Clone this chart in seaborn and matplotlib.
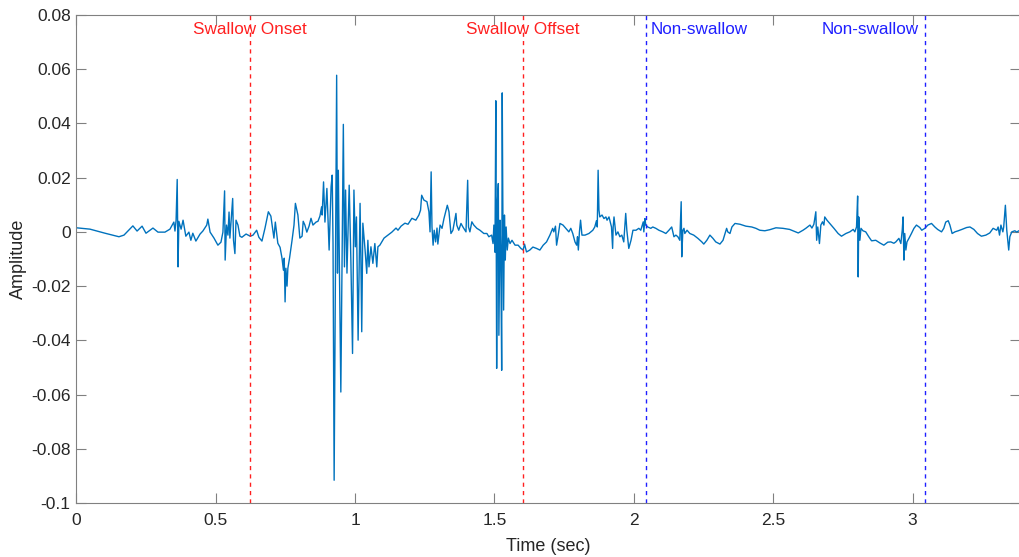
import numpy as np
import pandas as pd
import matplotlib
matplotlib.use('Agg')
import matplotlib.pyplot as plt
import seaborn as sns

# ---- signal (time in sec, amplitude) ----
time_s = [
    0.000, 0.049, 0.103, 0.153, 0.171, 0.203, 0.218, 0.236, 0.250, 0.275, 0.293, 0.318, 0.336,
    0.350, 0.354, 0.358, 0.362, 0.365, 0.368, 0.376, 0.383, 0.393, 0.404, 0.411, 0.418, 0.429,
    0.444, 0.454, 0.468, 0.472, 0.480, 0.494, 0.508, 0.519, 0.526, 0.532, 0.534, 0.539, 0.544,
    0.548, 0.551, 0.555, 0.561, 0.564, 0.569, 0.573, 0.580, 0.587, 0.594, 0.609, 0.624,
    0.634, 0.647, 0.655, 0.666, 0.677, 0.689, 0.698, 0.709, 0.714, 0.723, 0.731, 0.738, 0.743,
    0.746, 0.749, 0.752, 0.756, 0.759, 0.765, 0.774, 0.781, 0.786, 0.795, 0.802, 0.810, 0.814,
    0.820, 0.827, 0.835, 0.842, 0.849, 0.860, 0.867, 0.874,
    0.880, 0.882, 0.887, 0.892, 0.899, 0.907, 0.914, 0.918, 0.921, 0.925, 0.934, 0.937, 0.940,
    0.949, 0.958, 0.962, 0.966, 0.971, 0.979, 0.985, 0.991, 0.996, 1.001, 1.005, 1.011, 1.018,
    1.021, 1.024, 1.028, 1.036, 1.042, 1.046, 1.050, 1.057, 1.064, 1.071, 1.078, 1.082, 1.089,
    1.104, 1.118, 1.132, 1.147, 1.154, 1.165, 1.179, 1.190, 1.204, 1.218, 1.229, 1.235, 1.239,
    1.247, 1.258, 1.265,
    1.269, 1.273, 1.276, 1.280, 1.284, 1.289, 1.294, 1.297, 1.305, 1.312, 1.319, 1.331, 1.337,
    1.344, 1.351, 1.362, 1.365, 1.372, 1.380, 1.387, 1.398, 1.404, 1.407, 1.412, 1.419, 1.426,
    1.437, 1.448, 1.462, 1.473, 1.480, 1.490, 1.495, 1.498, 1.502, 1.505, 1.508, 1.511, 1.514,
    1.516, 1.520, 1.523, 1.526, 1.528, 1.530, 1.533, 1.536, 1.539, 1.542, 1.546, 1.550, 1.556,
    1.563, 1.574, 1.585, 1.595, 1.603, 1.608, 1.615, 1.627, 1.638, 1.651, 1.663, 1.675, 1.687,
    1.699, 1.709, 1.713, 1.719, 1.723, 1.728,
    1.735, 1.746, 1.756, 1.767, 1.774, 1.781, 1.789, 1.795, 1.798, 1.801, 1.805, 1.809, 1.814,
    1.825, 1.839, 1.853, 1.860, 1.866, 1.869, 1.872, 1.875, 1.878, 1.886, 1.893, 1.900, 1.904,
    1.911, 1.920, 1.924, 1.926, 1.929, 1.936, 1.943, 1.950, 1.957, 1.964, 1.971, 1.975, 1.982,
    1.990, 1.997, 2.008, 2.018, 2.025, 2.034, 2.036, 2.040, 2.043, 2.050, 2.061, 2.068, 2.079,
    2.090, 2.104, 2.115, 2.126, 2.136, 2.144, 2.151, 2.158, 2.165, 2.170, 2.172, 2.176, 2.180,
    2.183, 2.191, 2.201, 2.215, 2.230, 2.244, 2.251, 2.262, 2.273, 2.284, 2.294, 2.309, 2.320,
    2.333, 2.337, 2.345, 2.352, 2.363, 2.381, 2.402, 2.423, 2.438, 2.452, 2.470, 2.488, 2.510,
    2.535, 2.559, 2.590, 2.607, 2.617, 2.632, 2.639, 2.646, 2.653, 2.656, 2.660, 2.666, 2.671,
    2.677, 2.682, 2.685, 2.693, 2.703, 2.718, 2.733, 2.745, 2.761, 2.775, 2.787, 2.793, 2.799,
    2.803, 2.805, 2.807, 2.811, 2.815, 2.822, 2.832, 2.843, 2.853, 2.868, 2.883, 2.897, 2.911,
    2.922, 2.933, 2.940, 2.951, 2.958, 2.963, 2.966, 2.969, 2.972, 2.976, 2.980, 2.987, 2.996,
    3.005, 3.014, 3.026, 3.033, 3.044, 3.055, 3.068, 3.080, 3.090, 3.104, 3.112, 3.119, 3.128,
    3.134, 3.142, 3.152, 3.164, 3.177, 3.194, 3.206, 3.220, 3.233, 3.247, 3.263, 3.277, 3.289,
    3.302, 3.307, 3.312, 3.317, 3.324, 3.327, 3.333, 3.338, 3.345, 3.349, 3.356, 3.367, 3.374,
    3.381,
]
amplitude = [
    0.0015, 0.0010, -0.0005, -0.0018, -0.0012, 0.0022, 0.0003, 0.0021, -0.0005, 0.0014, -0.0001, -0.0001, 0.0010,
    0.0036, 0.0003, 0.0043, 0.0193, -0.0129, 0.0039, 0.0010, 0.0043, -0.0016, -0.0001, -0.0031, -0.0005, -0.0034,
    -0.0008, 0.0003, 0.0025, 0.0047, -0.0001, -0.0023, -0.0049, -0.0038, -0.0001, 0.0151, -0.0104, 0.0025, -0.0012,
    0.0073, -0.0023, 0.0036, 0.0123, -0.0031, -0.0080, 0.0043, 0.0025, -0.0016, -0.0020, -0.0008, -0.0016,
    -0.0012, 0.0006, -0.0020, -0.0034, 0.0014, 0.0074, 0.0058, -0.0023, 0.0036, -0.0042, -0.0057, -0.0097, -0.0141,
    -0.0097, -0.0258, -0.0134, -0.0200, -0.0134, -0.0097, -0.0031, 0.0025, 0.0105, 0.0062, -0.0023, -0.0016, 0.0039,
    0.0025, -0.0001, 0.0021, 0.0050, 0.0025, 0.0036, 0.0039, 0.0058,
    0.0092, 0.0062, 0.0184, 0.0036, 0.0160, -0.0067, 0.0166, 0.0209, -0.0042, -0.0915, 0.0577, -0.0152, 0.0227,
    -0.0590, 0.0396, -0.0129, 0.0154, -0.0152, 0.0172, -0.0104, -0.0448, 0.0154, -0.0055, 0.0055, -0.0399, 0.0105,
    -0.0104, -0.0368, 0.0032, -0.0067, -0.0153, -0.0031, -0.0129, -0.0055, -0.0116, -0.0043, -0.0129, -0.0055, -0.0049,
    -0.0023, -0.0012, -0.0001, 0.0014, 0.0006, 0.0021, 0.0032, 0.0028, 0.0050, 0.0043, 0.0062, 0.0080, 0.0135,
    0.0117, 0.0111, 0.0074,
    0.0000, 0.0221, 0.0018, -0.0049, 0.0006, -0.0037, 0.0014, -0.0045, 0.0025, 0.0013, 0.0049, 0.0098, 0.0074,
    -0.0006, 0.0006, 0.0068, 0.0025, 0.0006, 0.0031, 0.0018, 0.0000, 0.0190, 0.0018, 0.0000, 0.0037, 0.0025,
    0.0013, 0.0006, -0.0006, -0.0006, -0.0018, -0.0012, -0.0043, 0.0025, -0.0075, 0.0483, -0.0503, 0.0117, 0.0178,
    -0.0381, 0.0043, -0.0104, -0.0510, 0.0512, 0.0123, -0.0288, 0.0062, -0.0104, 0.0018, -0.0067, -0.0023, -0.0043,
    -0.0031, -0.0049, -0.0049, -0.0061, -0.0067, -0.0045, -0.0074, -0.0067, -0.0056, -0.0061, -0.0067, -0.0049, -0.0037,
    -0.0012, 0.0013, 0.0000, 0.0021, -0.0049, -0.0018,
    0.0031, 0.0025, 0.0013, 0.0000, 0.0013, -0.0006, -0.0037, -0.0049, -0.0018, -0.0067, 0.0000, 0.0043, -0.0012,
    -0.0012, -0.0006, 0.0006, 0.0018, 0.0041, 0.0018, 0.0227, 0.0080, 0.0055, 0.0062, 0.0049, 0.0055, 0.0043,
    0.0055, 0.0018, -0.0061, 0.0018, 0.0055, -0.0012, 0.0000, -0.0018, -0.0012, -0.0037, 0.0068, 0.0006, -0.0061,
    -0.0031, 0.0006, 0.0006, 0.0013, 0.0006, 0.0037, 0.0000, 0.0049, 0.0025, 0.0018, 0.0013, 0.0018, 0.0013,
    0.0006, 0.0000, -0.0006, 0.0006, 0.0018, -0.0018, -0.0012, -0.0018, -0.0031, 0.0111, -0.0092, 0.0006, 0.0013,
    -0.0006, 0.0006, -0.0006, -0.0012, -0.0024, -0.0037, -0.0045, -0.0031, -0.0012, -0.0024, -0.0037, -0.0045, -0.0031,
    0.0013, 0.0000, -0.0006, 0.0018, 0.0031, 0.0028, 0.0021, 0.0018, 0.0013, 0.0006, 0.0004, 0.0008, 0.0015,
    0.0013, 0.0009, -0.0004, 0.0006, 0.0013, 0.0025, 0.0014, 0.0028, 0.0074, -0.0031, 0.0018, -0.0043, 0.0025,
    0.0037, 0.0025, 0.0055, 0.0043, 0.0031, 0.0013, -0.0006, -0.0016, -0.0006, 0.0000, 0.0009, 0.0000, 0.0018,
    0.0132, -0.0166, 0.0055, -0.0031, 0.0013, 0.0004, 0.0000, -0.0018, -0.0033, -0.0031, -0.0041, -0.0049, -0.0038,
    -0.0037, -0.0042, -0.0037, -0.0024, -0.0043, 0.0006, 0.0055, -0.0104, -0.0006, -0.0067, -0.0037, -0.0024, -0.0006,
    0.0013, 0.0025, 0.0016, 0.0006, 0.0013, 0.0025, 0.0031, 0.0018, 0.0009, 0.0000, 0.0013, 0.0036, 0.0041,
    0.0025, -0.0006, 0.0000, 0.0004, 0.0009, 0.0016, 0.0018, 0.0009, -0.0006, -0.0016, -0.0012, -0.0004, 0.0013,
    0.0006, 0.0018, -0.0012, 0.0025, 0.0000, 0.0018, 0.0098, 0.0006, -0.0067, -0.0018, 0.0000, 0.0004, -0.0001,
    0.0004,
]

# ---- event markers ----
event_times = [0.624, 1.602, 2.042, 3.043]
event_labels = ['Swallow Onset', 'Swallow Offset', 'Non-swallow', 'Non-swallow']
event_colors = ['#FF2020', '#FF2020', '#2020FF', '#2020FF']
label_align = ['center', 'center', 'left', 'right']

x_ticks = [0, 0.5, 1, 1.5, 2, 2.5, 3]
x_tick_labels = ['0', '0.5', '1', '1.5', '2', '2.5', '3']
y_ticks = [-0.1, -0.08, -0.06, -0.04, -0.02, 0, 0.02, 0.04, 0.06, 0.08]
y_tick_labels = ['-0.1', '-0.08', '-0.06', '-0.04', '-0.02', '0', '0.02', '0.04', '0.06', '0.08']

df = pd.DataFrame({'Time': time_s, 'Amplitude': amplitude})

sns.set_theme(style='white')
plt.rcParams['font.family'] = ['Liberation Sans', 'DejaVu Sans']

fig = plt.figure(figsize=(10.2, 5.57), dpi=100)
ax = fig.add_axes([0.0748, 0.0964, 0.9248, 0.8772])

sns.lineplot(data=df, x='Time', y='Amplitude', ax=ax, color='#0072BD',
             linewidth=1.0, estimator=None, sort=False)

for t, lab, c, ha in zip(event_times, event_labels, event_colors, label_align):
    ax.axvline(t, color=c, linestyle=(0, (3, 3)), linewidth=1.0)
    off = {'center': 0.0, 'left': 0.02, 'right': -0.02}[ha]
    ax.text(t + off, 0.0745, lab, color=c, ha=ha, va='center', fontsize=12.3)

ax.set_xlim(0, 3.384)
ax.set_ylim(-0.1, 0.08)
ax.set_xticks(x_ticks)
ax.set_xticklabels(x_tick_labels)
ax.set_yticks(y_ticks)
ax.set_yticklabels(y_tick_labels)
ax.set_xlabel('Time (sec)', fontsize=13, color='#262626', labelpad=7)
ax.set_ylabel('Amplitude', fontsize=13, color='#262626', labelpad=3)

for sp in ax.spines.values():
    sp.set_visible(True)
    sp.set_color('#808080')
    sp.set_linewidth(0.8)
ax.tick_params(direction='in', length=7, width=0.8, color='#808080',
               labelsize=12.5, labelcolor='#262626', top=True, right=True,
               bottom=True, left=True)
ax.tick_params(axis='x', pad=7)
ax.tick_params(axis='y', pad=4)

fig.savefig('out.png', dpi=100)
